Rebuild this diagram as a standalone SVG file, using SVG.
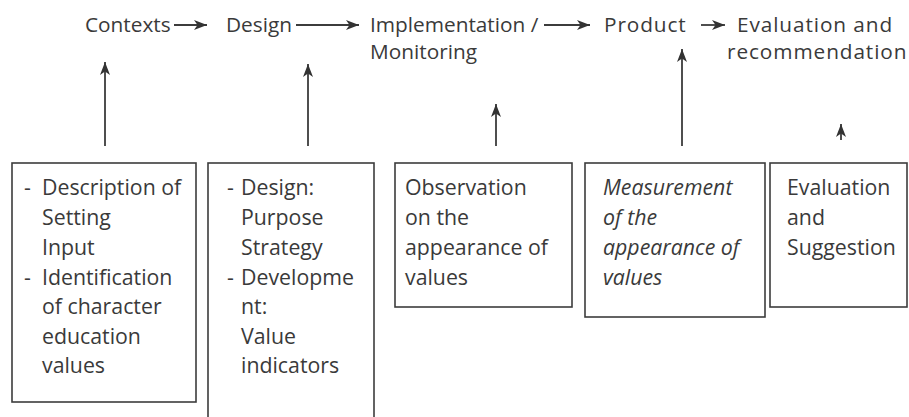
<svg xmlns="http://www.w3.org/2000/svg" width="909" height="417" viewBox="0 0 909 417">
<style>
  .t { font-family: "Open Sans", "Noto Sans", sans-serif; font-size: 20.8px; fill: #3a3a3a; }
  .w { letter-spacing: 0.9px; }
  .b { font-family: "Open Sans", "Noto Sans", sans-serif; font-size: 21.3px; fill: #3a3a3a; }
  .i { font-style: italic; }
  .box { fill: #ffffff; stroke: #3c3c3c; stroke-width: 1.6; }
  .ln { stroke: #3c3c3c; stroke-width: 1.8; fill: none; marker-end: url(#ah); }
</style>
<defs>
  <marker id="ah" markerUnits="userSpaceOnUse" markerWidth="14" markerHeight="12" refX="13" refY="5" orient="auto" viewBox="0 0 14 10">
    <path d="M0,0 L13,5 L0,10 L3.5,5 z" fill="#333"/>
  </marker>
</defs>
<rect width="909" height="417" fill="#ffffff"/>

<g id="connectors">
  <line class="ln" x1="174" y1="25" x2="207" y2="25"/>
  <line class="ln" x1="296" y1="25" x2="359" y2="25"/>
  <line class="ln" x1="544" y1="25" x2="590" y2="25"/>
  <line class="ln" x1="701" y1="25" x2="725" y2="25"/>
  <line class="ln" x1="105" y1="146" x2="105" y2="62"/>
  <line class="ln" x1="308" y1="146" x2="308" y2="64"/>
  <line class="ln" x1="496" y1="146" x2="496" y2="104"/>
  <line class="ln" x1="682" y1="146" x2="682" y2="49"/>
  <line class="ln" x1="841" y1="140" x2="841" y2="124"/>
</g>

<g id="contexts"><text class="t" x="85" y="32">Contexts</text></g>
<g id="design"><text class="t" x="226" y="32">Design</text></g>
<g id="implementation"><text class="t" x="370" y="32">Implementation /</text><text class="t" x="370" y="59">Monitoring</text></g>
<g id="product"><text class="t w" x="604" y="32">Product</text></g>
<g id="evaluation"><text class="t w" x="737" y="32">Evaluation and</text><text class="t w" x="727" y="59">recommendation</text></g>

<g id="box1">
  <rect class="box" x="12" y="163" width="184" height="239"/>
  <text class="b" x="24" y="195">-</text>
  <text class="b" x="42" y="195">Description of</text>
  <text class="b" x="42" y="225">Setting</text>
  <text class="b" x="42" y="255">Input</text>
  <text class="b" x="24" y="285">-</text>
  <text class="b" x="42" y="285">Identification</text>
  <text class="b" x="42" y="314">of character</text>
  <text class="b" x="42" y="344">education</text>
  <text class="b" x="42" y="373">values</text>
</g>

<g id="box2">
  <rect class="box" x="208" y="163" width="166" height="262"/>
  <text class="b" x="227" y="195">-</text>
  <text class="b" x="241" y="195">Design:</text>
  <text class="b" x="241" y="225">Purpose</text>
  <text class="b" x="241" y="255">Strategy</text>
  <text class="b" x="227" y="285">-</text>
  <text class="b" x="241" y="285">Developme</text>
  <text class="b" x="241" y="314">nt:</text>
  <text class="b" x="241" y="344">Value</text>
  <text class="b" x="241" y="373">indicators</text>
</g>

<g id="box3">
  <rect class="box" x="395" y="163" width="177" height="144"/>
  <text class="b" x="405" y="195">Observation</text>
  <text class="b" x="405" y="225">on the</text>
  <text class="b" x="405" y="255">appearance of</text>
  <text class="b" x="405" y="285">values</text>
</g>

<g id="box4">
  <rect class="box" x="585" y="163" width="180" height="154"/>
  <text class="b i" x="603" y="195">Measurement</text>
  <text class="b i" x="603" y="225">of the</text>
  <text class="b i" x="603" y="255">appearance of</text>
  <text class="b i" x="603" y="285">values</text>
</g>

<g id="box5">
  <rect class="box" x="770" y="163" width="137" height="144"/>
  <text class="b" x="787" y="195">Evaluation</text>
  <text class="b" x="787" y="225">and</text>
  <text class="b" x="787" y="255">Suggestion</text>
</g>
</svg>
